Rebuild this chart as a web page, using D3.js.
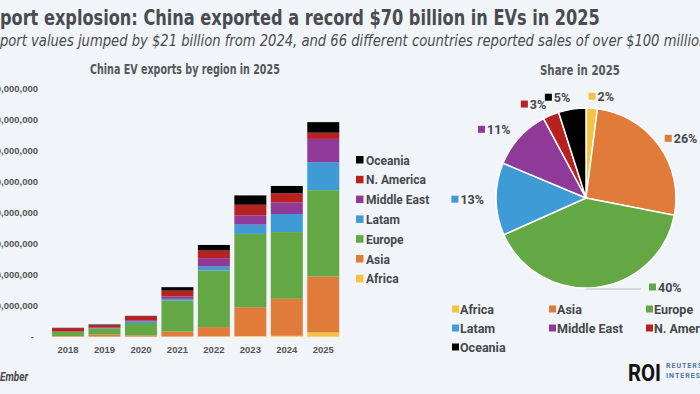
<!DOCTYPE html>
<html>
<head>
<meta charset="utf-8">
<script src="https://cdn.jsdelivr.net/npm/d3@7"></script>
<style>
body { margin: 0; background: #f1f4f8; }
svg { display: block; }
.cond { font-family: "DejaVu Sans Condensed", "DejaVu Sans", sans-serif; }
.rob { font-family: Roboto, "Noto Sans", sans-serif; font-weight: bold; fill: #46484c; }
.axis { font-family: "Liberation Sans", Arial, sans-serif; font-weight: bold; fill: #555; }
</style>
</head>
<body>
<svg id="chart" width="700" height="394"></svg>
<script>
// data, billion USD
var years = ["2018", "2019", "2020", "2021", "2022", "2023", "2024", "2025"];
var regions = ["Africa", "Asia", "Europe", "Latam", "Middle East", "N. America", "Oceania"];
var colors = ["#f5c242", "#e07b39", "#63a844", "#3f9bd5", "#8f3a98", "#b8211f", "#000000"];

var africa     = [0.01, 0.02, 0.02, 0.05, 0.1, 0.2, 0.3, 1.4];
var asia       = [0.2, 0.7, 0.4, 1.6, 3.0, 9.3, 11.9, 18.0];
var europe     = [1.3, 1.9, 4.0, 10.0, 18.2, 23.6, 21.5, 27.8];
var latam      = [0.05, 0.1, 0.5, 0.55, 1.3, 3.0, 5.8, 9.0];
var middleEast = [0.1, 0.2, 0.4, 0.75, 2.7, 3.0, 3.7, 7.5];
var nAmerica   = [1.1, 0.8, 1.3, 1.9, 2.45, 3.4, 3.0, 2.0];
var oceania    = [0.1, 0.2, 0.1, 1.1, 1.8, 3.0, 2.35, 3.4];

var yTicks = [0, 10, 20, 30, 40, 50, 60, 70, 80];

var series = [africa, asia, europe, latam, middleEast, nAmerica, oceania];

// rows for the stack
var rows = years.map(function(y, i) {
  var r = { year: y };
  regions.forEach(function(reg, j) { r[reg] = series[j][i]; });
  return r;
});

var svg = d3.select("#chart");
var color = d3.scaleOrdinal().domain(regions).range(colors);

// squeeze a text so chars from..to span x0..x1 (the rest runs off the page)
function fitText(g, t, from, to, x0, x1, y) {
  var node = t.node();
  var len = node.getSubStringLength(from, to - from);
  var pre = from > 0 ? node.getSubStringLength(0, from) : 0;
  var sx = (x1 - x0) / len;
  g.attr("transform", "translate(" + (x0 - pre * sx) + "," + y + ") scale(" + sx + ",1)");
}

var tg = svg.append("g");
var title = tg.append("text")
  .attr("class", "cond")
  .attr("font-size", 22)
  .attr("font-weight", "bold")
  .attr("fill", "#494b4f")
  .text("Export explosion: China exported a record $70 billion in EVs in 2025");
fitText(tg, title, 2, title.text().length, 0, 600, 25);

var sg = svg.append("g");
var sub = sg.append("text")
  .attr("class", "cond")
  .attr("font-size", 15.5)
  .attr("font-style", "italic")
  .attr("fill", "#494b4f")
  .text("Export values jumped by $21 billion from 2024, and 66 different countries reported sales of over $100 million");
fitText(sg, sub, 2, sub.text().length - 1, 0, 700, 46);

// ---- stacked bars ----
var x = d3.scaleBand().domain(years).range([49.8, 341.5]).paddingInner(0.123).paddingOuter(0.0615);
var y = d3.scaleLinear().domain([0, 80]).range([336.7, 88.3]);

var bg = svg.append("g");
var btitle = bg.append("text")
  .attr("class", "cond")
  .attr("font-size", 14)
  .attr("font-weight", "bold")
  .attr("fill", "#55575b")
  .text("China EV exports by region in 2025");
fitText(bg, btitle, 0, btitle.text().length, 90, 280, 74);

var stack = d3.stack().keys(regions)(rows);

svg.append("g")
  .selectAll("g")
  .data(stack)
  .enter()
  .append("g")
    .attr("fill", function(d) { return color(d.key); })
  .selectAll("rect")
  .data(function(d) { return d; })
  .enter()
  .append("rect")
    .attr("x", function(d) { return x(d.data.year); })
    .attr("width", x.bandwidth())
    .attr("y", function(d) { return y(d[1]); })
    .attr("height", function(d) { return y(d[0]) - y(d[1]); });

// y axis, accounting style labels
var fmt = d3.format(",");
var yAxis = svg.append("g")
  .attr("transform", "translate(38,0)")
  .call(d3.axisLeft(y).tickValues(yTicks).tickSize(0).tickPadding(0)
    .tickFormat(function(d) { return d === 0 ? "-" : fmt(d * 1e9); }));
yAxis.select(".domain").remove();
yAxis.selectAll("text").attr("class", "axis").attr("font-size", 9.5)
  .attr("dx", function(d) { return d === 0 ? -4 : 0; });

var xAxis = svg.append("g")
  .attr("transform", "translate(0,346)")
  .call(d3.axisBottom(x).tickSize(0).tickPadding(0));
xAxis.select(".domain").remove();
xAxis.selectAll("text").attr("class", "axis").attr("font-size", 9.5);

// legend beside bars
var leg = svg.append("g")
  .selectAll("g")
  .data(regions.slice().reverse())
  .enter()
  .append("g")
    .attr("transform", function(d, i) { return "translate(356," + (160 + i * 19.8) + ")"; });
leg.append("rect").attr("x", 0).attr("y", -4).attr("width", 7.5).attr("height", 7.5)
  .attr("fill", function(d) { return color(d); });
leg.append("text")
  .attr("class", "rob")
  .attr("x", 10)
  .attr("y", 4.5)
  .attr("font-size", 12)
  .text(function(d) { return d; });

// ---- pie of 2025 ----
var last = years.length - 1;
var shares = series.map(function(s, j) { return { region: regions[j], value: s[last] }; });
var total = d3.sum(shares, function(d) { return d.value; });
var pct = d3.format(".0%");

var cx = 586, cy = 198, r = 90;
var pie = d3.pie().sort(null).value(function(d) { return d.value; });
var arc = d3.arc().innerRadius(0).outerRadius(r);
var pieG = svg.append("g").attr("transform", "translate(" + cx + "," + cy + ")");

var pg = svg.append("g");
var ptitle = pg.append("text")
  .attr("class", "cond")
  .attr("font-size", 14)
  .attr("font-weight", "bold")
  .attr("fill", "#55575b")
  .text("Share in 2025");
fitText(pg, ptitle, 0, ptitle.text().length, 540, 620, 75);

var slices = pie(shares);
pieG.selectAll("path")
  .data(slices)
  .enter()
  .append("path")
    .attr("d", arc)
    .attr("fill", function(d) { return color(d.data.region); })
    .attr("stroke", "#ffffff")
    .attr("stroke-width", 1.5);

// outside labels
var labelArc = d3.arc().innerRadius(r + 12).outerRadius(r + 12);
var labs = pieG.selectAll("g.lab")
  .data(slices)
  .enter()
  .append("g")
    .attr("class", "lab");
labs.append("rect").attr("x", 0).attr("y", -3.5).attr("width", 7).attr("height", 7)
  .attr("fill", function(d) { return color(d.data.region); });
labs.append("text")
  .attr("class", "rob")
  .attr("x", 9)
  .attr("y", 4.5)
  .attr("font-size", 12.5)
  .text(function(d) { return pct(d.data.value / total); });
labs.attr("transform", function(d) {
  var p = labelArc.centroid(d);
  var mid = (d.startAngle + d.endAngle) / 2;
  var w = this.getBBox().width;
  var dx = Math.sin(mid) > 0 ? -4 : -w;
  if (d.data.region === "Europe") { p = [63, 89]; dx = 0; }
  return "translate(" + (p[0] + dx) + "," + p[1] + ")";
});

// leader line for Europe
var eu = slices[regions.indexOf("Europe")];
var ep = d3.arc().innerRadius(r).outerRadius(r).centroid(eu);
pieG.append("line")
  .attr("x1", ep[0] - 10).attr("y1", r + 1)
  .attr("x2", 55).attr("y2", r + 1)
  .attr("stroke", "#b9bcc2").attr("stroke-width", 1);

// pie legend, 3 columns
var pleg = svg.append("g")
  .selectAll("g")
  .data(regions)
  .enter()
  .append("g")
    .attr("transform", function(d, i) { return "translate(" + (452 + (i % 3) * 97) + "," + (309 + Math.floor(i / 3) * 19) + ")"; });
pleg.append("rect").attr("x", 0).attr("y", -3.5).attr("width", 7).attr("height", 7)
  .attr("fill", function(d) { return color(d); });
pleg.append("text")
  .attr("class", "rob")
  .attr("x", 8)
  .attr("y", 5)
  .attr("font-size", 12.5)
  .text(function(d) { return d; });

// source + logo
var eg = svg.append("g");
var src = eg.append("text")
  .attr("class", "rob")
  .attr("font-size", 13)
  .attr("font-style", "italic")
  .text("Source: Ember");
fitText(eg, src, 8, src.text().length, 0, 28, 381);

var rg = svg.append("g");
var roi = rg.append("text")
  .attr("class", "rob")
  .attr("font-size", 24)
  .style("fill", "#111")
  .text("ROI");
fitText(rg, roi, 0, 3, 628, 661, 381);

svg.append("text")
  .attr("x", 666).attr("y", 368)
  .attr("font-family", "Roboto, sans-serif")
  .attr("font-weight", "bold")
  .attr("font-size", 7).attr("letter-spacing", 1)
  .attr("fill", "#4d78a3")
  .text("REUTERS OPEN");
svg.append("text")
  .attr("x", 666).attr("y", 377.5)
  .attr("font-family", "Roboto, sans-serif")
  .attr("font-weight", "bold")
  .attr("font-size", 7).attr("letter-spacing", 1)
  .attr("fill", "#4d78a3")
  .text("INTEREST");
</script>
</body>
</html>
